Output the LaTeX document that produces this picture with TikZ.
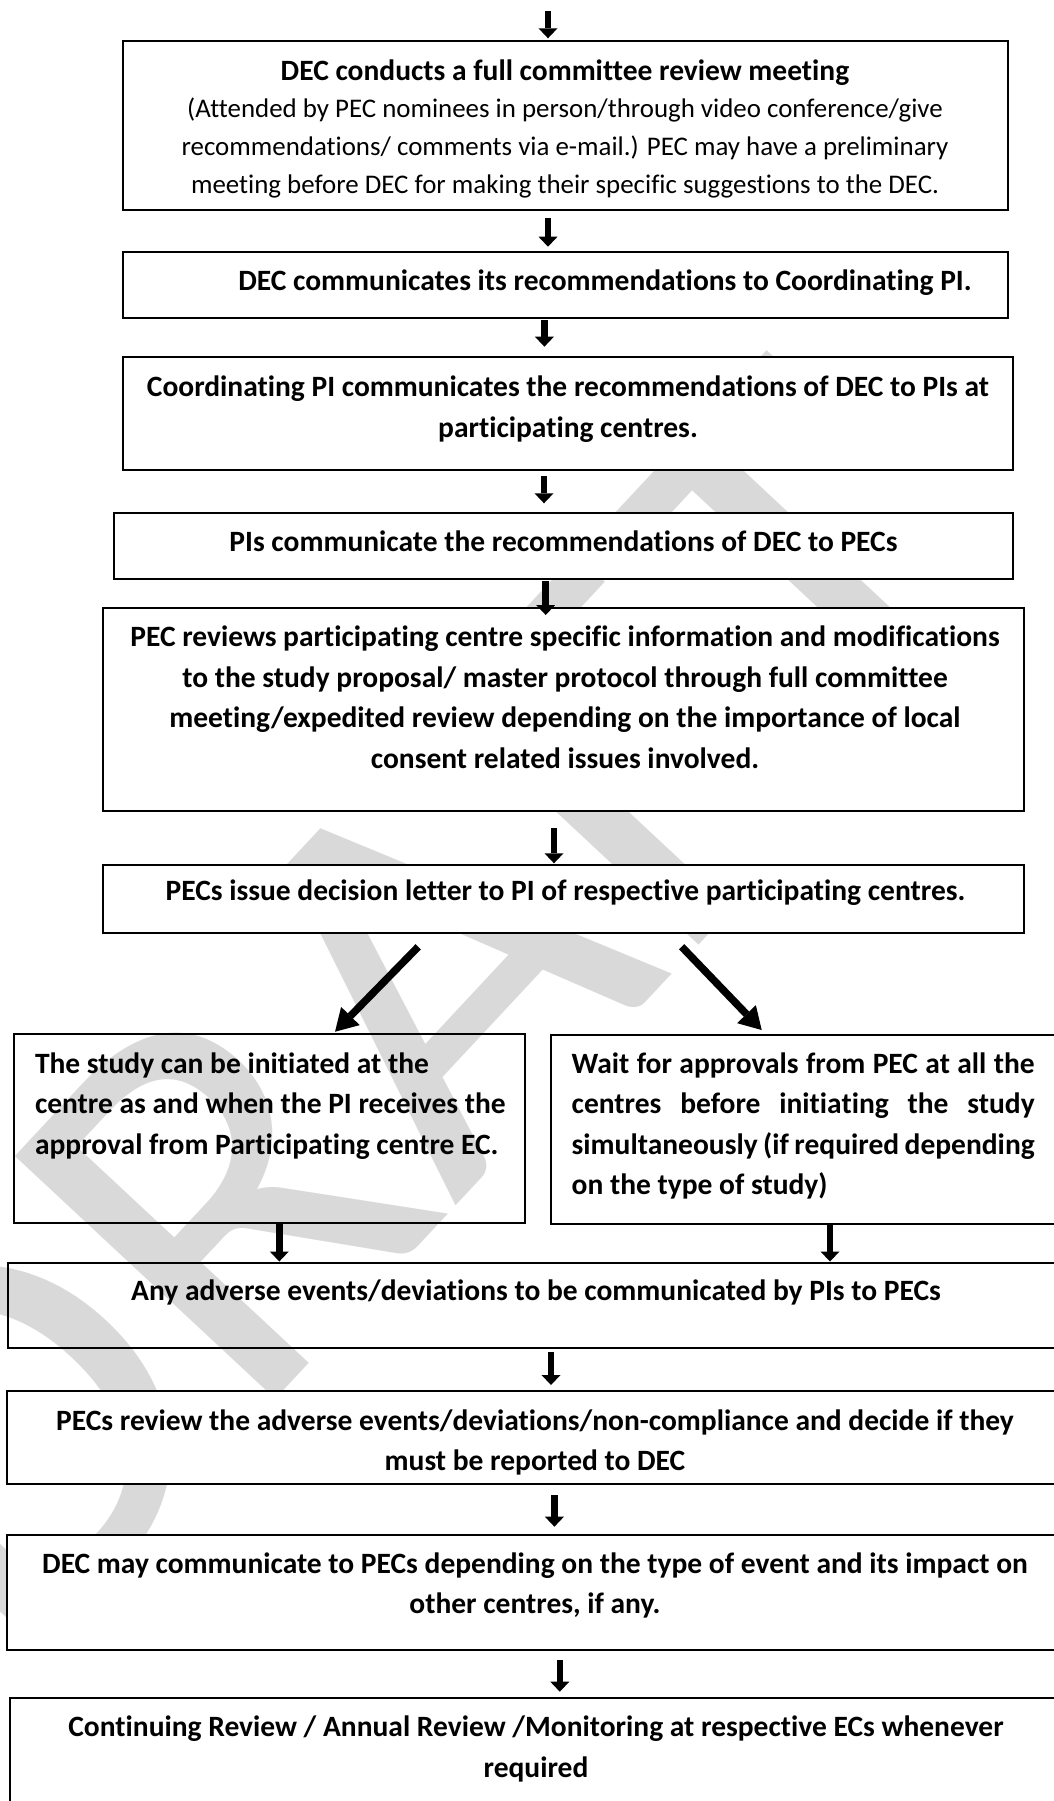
\documentclass[tikz,border=0pt]{standalone}
\usepackage{fontspec}
\setmainfont{Carlito}[Ligatures=NoCommon]
\usetikzlibrary{arrows.meta,calc}
\definecolor{wmgray}{RGB}{217,217,217}
\newcommand\fs{\rule{0pt}{22pt}}
\begin{document}
\begin{tikzpicture}[x=1pt,y=-1pt,
  box/.style={draw=black, line width=2pt, fill=white, inner sep=0pt, outer sep=0pt},
  openbox/.style={box, fill=none},
  txt/.style={inner sep=0pt, outer sep=0pt, anchor=north, align=center,
    font=\bfseries\fontsize{29.5}{40.5}\selectfont},
  varr/.style={line width=6.5pt, -{Triangle[width=19pt,length=10pt,line width=0pt]}},
  darr/.style={line width=7.5pt, -{Triangle[width=26pt,length=22pt,line width=0pt]}},
  wm/.style={anchor=base west, rotate=47, inner sep=0pt, outer sep=0pt, text=wmgray,
    font=\mdseries\fontsize{555}{555}\selectfont}
]
\useasboundingbox (0,0) rectangle (1054,1801);

% watermark
\node[wm] (wmark) at (16,1678) {DRAFT};

% boxes
\node[box, minimum width=885pt, minimum height=169pt] (b1) at (565.5,125.5) {};
\node[box, minimum width=885pt, minimum height=66.6pt] (b2) at (565.5,285) {};
\node[box, minimum width=890.4pt, minimum height=112.7pt] (b3) at (568.2,413.65) {};
\node[box, minimum width=899.2pt, minimum height=65.7pt] (b4) at (563.8,546.15) {};
\node[box, minimum width=920.7pt, minimum height=202.4pt] (b5) at (563.15,709.5) {};
\node[box, minimum width=920.2pt, minimum height=67.5pt] (b6) at (563.4,898.75) {};
\node[openbox, minimum width=511.3pt, minimum height=189pt] (bl) at (269.65,1128.8) {};
\node[box, minimum width=519pt, minimum height=189pt] (br) at (810.5,1129.5) {};
\node[openbox, minimum width=1061.7pt, minimum height=85.8pt] (b7) at (539.15,1305.4) {};
\node[box, minimum width=1063.3pt, minimum height=93.3pt] (b8) at (538.35,1437.65) {};
\node[box, minimum width=1063.3pt, minimum height=115pt] (b9) at (538.35,1592.5) {};
\node[box, minimum width=1060pt, minimum height=117.3pt] (b10) at (540,1756.35) {};

% texts
\node[txt, font=\bfseries\fontsize{29.5}{37.8}\selectfont] (t1) at (565,58)
  {\fs DEC conducts a full committee review meeting\\
   {\mdseries\fontsize{26.9}{37.8}\selectfont (Attended by PEC nominees in person/through video conference/give}\\
   {\mdseries\fontsize{26.9}{37.8}\selectfont recommendations/ comments via e-mail.) PEC may have a preliminary}\\
   {\mdseries\fontsize{26.9}{37.8}\selectfont meeting before DEC for making their specific suggestions to the DEC.}};
\node[txt] (t2) at (605,268) {\fs DEC communicates its recommendations to Coordinating PI.};
\node[txt] (t3) at (568,374.7) {\fs Coordinating PI communicates the recommendations of DEC to PIs at\\ participating centres.};
\node[txt] (t4) at (563.5,529.7) {\fs PIs communicate the recommendations of DEC to PECs};
\node[txt] (t5) at (565,624.7) {\fs PEC reviews participating centre specific information and modifications\\
  to the study proposal/ master protocol through full committee\\
  meeting/expedited review depending on the importance of local\\
  consent related issues involved.};
\node[txt] (t6) at (565.5,878) {\fs PECs issue decision letter to PI of respective participating centres.};
\node[txt, anchor=north west, align=left] (tl) at (35,1051.3) {\fs The study can be initiated at the\\
  centre as and when the PI receives the\\
  approval from Participating centre EC.};
\node[txt, anchor=north west, align=left] (tr) at (571.7,1051.3) {\fs\makebox[463pt][s]{Wait for approvals from PEC at all the}\\
  \makebox[463pt][s]{centres before initiating the study}\\
  \makebox[463pt][s]{simultaneously (if required depending}\\
  on the type of study)};
\node[txt] (t7) at (536,1278.5) {\fs Any adverse events/deviations to be communicated by PIs to PECs};
\node[txt] (t8) at (535,1408) {\fs PECs review the adverse events/deviations/non-compliance and decide if they\\ must be reported to DEC};
\node[txt] (t9) at (535,1551.3) {\fs DEC may communicate to PECs depending on the type of event and its impact on\\ other centres, if any.};
\node[txt] (t10) at (536,1714.7) {\fs Continuing Review / Annual Review /Monitoring at respective ECs whenever\\ required};

% arrow x positions
\coordinate (top) at (548,11);
\coordinate (x1) at (548,0);
\coordinate (x2) at (544.4,0);
\coordinate (x3) at (544,0);
\coordinate (x4) at (545.7,0);
\coordinate (x5) at (554,0);
\coordinate (x6) at (279.3,0);
\coordinate (x7) at (830,0);
\coordinate (x8) at (551,0);
\coordinate (x9) at (554.4,0);
\coordinate (x10) at (559.8,0);

\draw[varr, shorten >=2.7pt] (top) -- (b1.north -| top);
\draw[varr, shorten <=8.3pt, shorten >=5pt] (b1.south -| x1) -- (b2.north -| x1);
\draw[varr, shorten <=1.7pt, shorten >=10.6pt] (b2.south -| x2) -- (b3.north -| x2);
\draw[varr, shorten <=6pt, shorten >=10pt] (b3.south -| x3) -- (b4.north -| x3);
\draw[varr, shorten <=2pt, shorten >=-6.7pt] (b4.south -| x4) -- (b5.north -| x4);
\draw[varr, shorten <=17.6pt, shorten >=1.7pt] (b5.south -| x5) -- (b6.north -| x5);
\draw[darr, shorten <=20pt, shorten >=3.6pt] ($(b6.south west)+(328.9,0)$) -- ($(bl.north west)+(318.5,0)$);
\draw[darr, shorten <=19.7pt, shorten >=6.9pt] ($(b6.south west)+(564.7,0)$) -- ($(br.north west)+(215.5,0)$);
\draw[varr, shorten >=1pt] (bl.south -| x6) -- (b7.north -| x6);
\draw[varr, shorten >=1pt] (br.south -| x7) -- (b7.north -| x7);
\draw[varr, shorten <=3.4pt, shorten >=6pt] (b7.south -| x8) -- (b8.north -| x8);
\draw[varr, shorten <=10.7pt, shorten >=8.3pt] (b8.south -| x9) -- (b9.north -| x9);
\draw[varr, shorten <=10pt, shorten >=6pt] (b9.south -| x10) -- (b10.north -| x10);
\end{tikzpicture}
\end{document}
